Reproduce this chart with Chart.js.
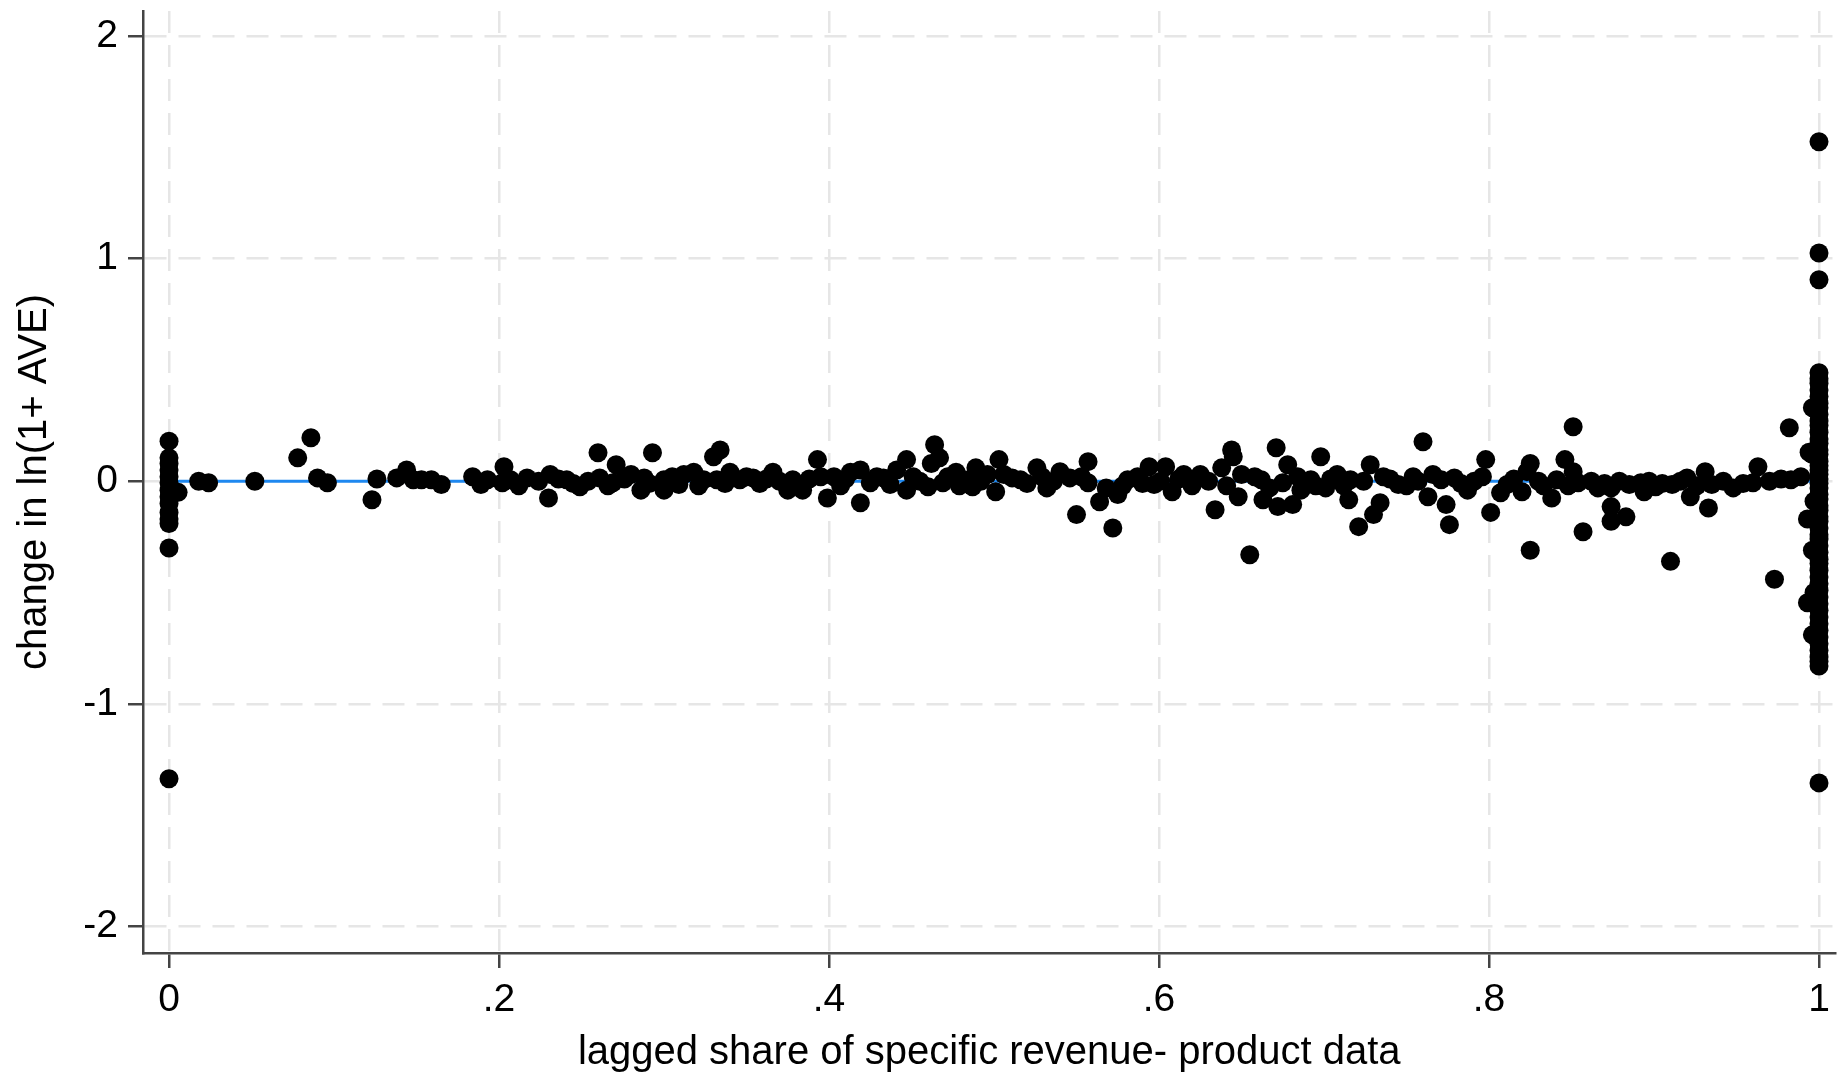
<!DOCTYPE html>
<html>
<head>
<meta charset="utf-8">
<script src="https://cdn.jsdelivr.net/npm/chart.js@4"></script>
<style>
  body { margin: 0; background: #fff; }
  #wrap { width: 1845px; height: 1081px; }
</style>
</head>
<body>
<div id="wrap"><canvas id="chartAve" width="1845" height="1081"></canvas></div>
<script>
// tick marks and labels
const xTickValues = [0, 0.2, 0.4, 0.6, 0.8, 1];
const xTickLabels = ['0', '.2', '.4', '.6', '.8', '1'];
const yTickValues = [-2, -1, 0, 1, 2];
const yTickLabels = ['-2', '-1', '0', '1', '2'];

// observations with share = 0
const zeroShareChange = [0.18, 0.105, 0.08, 0.05, 0.02, -0.007, -0.04, -0.07, -0.1, -0.14, -0.17, -0.19, -0.30, -1.336];

// observations with share = 1
const fullShareChange = [1.525, 1.025, 0.905, 0.487, 0.46, 0.44, 0.41, 0.38, 0.35, 0.33, 0.30, 0.27, 0.25, 0.22,
  0.19, 0.17, 0.14, 0.12, 0.09, 0.07, 0.05, 0.03, 0.01, -0.01, -0.03, -0.06, -0.08, -0.11, -0.13, -0.16,
  -0.18, -0.21, -0.24, -0.26, -0.29, -0.32, -0.35, -0.37, -0.40, -0.43, -0.46, -0.49, -0.52, -0.55,
  -0.58, -0.61, -0.64, -0.67, -0.70, -0.73, -0.76, -0.79, -0.81, -0.83, -1.355];

// observations in between (readable outliers)
const midShare = [0.0055, 0.018, 0.024, 0.052, 0.078, 0.086, 0.090, 0.096, 0.123, 0.126, 0.138, 0.144, 0.148, 0.153,
  0.159, 0.165, 0.184, 0.189, 0.193, 0.202, 0.203, 0.207, 0.217, 0.224, 0.230, 0.231, 0.241, 0.249, 0.260,
  0.261, 0.269, 0.271, 0.280, 0.286, 0.288, 0.293, 0.300, 0.300, 0.312, 0.318, 0.324, 0.330, 0.332, 0.334,
  0.340, 0.346, 0.354, 0.366, 0.375, 0.378, 0.384, 0.393, 0.395, 0.399, 0.403, 0.413, 0.419, 0.419, 0.425,
  0.433, 0.441, 0.447, 0.447, 0.451, 0.460, 0.462, 0.464, 0.467, 0.469, 0.477, 0.482, 0.487, 0.489, 0.496,
  0.501, 0.503, 0.511, 0.516, 0.526, 0.532, 0.540, 0.546, 0.550, 0.557, 0.557, 0.564, 0.572, 0.575, 0.581,
  0.587, 0.594, 0.597, 0.604, 0.608, 0.615, 0.625, 0.634, 0.638, 0.644, 0.645, 0.648, 0.650, 0.655, 0.662,
  0.663, 0.671, 0.672, 0.675, 0.678, 0.681, 0.686, 0.690, 0.692, 0.698, 0.701, 0.708, 0.715, 0.716, 0.721,
  0.728, 0.730, 0.734, 0.736, 0.745, 0.754, 0.760, 0.763, 0.766, 0.771, 0.774, 0.776, 0.779, 0.787, 0.796,
  0.798, 0.801, 0.807, 0.811, 0.820, 0.823, 0.825, 0.825, 0.830, 0.838, 0.841, 0.846, 0.851, 0.851, 0.854,
  0.857, 0.866, 0.874, 0.874, 0.874, 0.883, 0.885, 0.892, 0.894, 0.901, 0.910, 0.911, 0.920, 0.922, 0.931,
  0.933, 0.935, 0.948, 0.960, 0.963, 0.973, 0.982, 0.983, 0.989, 0.993, 0.993, 0.994];
const midChange = [-0.05, 0.0, -0.007, 0.0, 0.105, 0.195, 0.015, -0.007, -0.083, 0.01, 0.015, 0.05, 0.007, 0.007,
  0.007, -0.015, 0.02, -0.015, 0.007, -0.007, 0.065, 0.007, 0.015, 0.0, -0.075, 0.03, 0.007, -0.025, 0.128,
  0.015, -0.007, 0.074, 0.03, -0.04, 0.015, 0.128, -0.04, 0.007, 0.03, 0.04, 0.007, 0.11, 0.007, 0.14,
  0.04, 0.007, 0.015, 0.04, -0.04, 0.007, -0.04, 0.097, 0.02, -0.075, 0.02, 0.04, 0.05, -0.097, -0.007,
  0.015, 0.05, 0.097, -0.04, 0.02, -0.025, 0.08, 0.164, 0.105, -0.007, 0.04, 0.007, -0.025, 0.06, 0.03,
  -0.047, 0.097, 0.015, 0.007, 0.06, -0.03, 0.043, 0.015, -0.15, 0.088, -0.007, -0.092, -0.21, -0.06, 0.007,
  0.02, 0.065, -0.015, 0.065, -0.047, 0.03, 0.03, -0.128, 0.06, 0.14, 0.11, -0.07, 0.03, -0.33, 0.007,
  -0.083, 0.15, -0.114, -0.007, 0.074, -0.105, -0.04, -0.015, 0.007, 0.11, -0.03, 0.03, -0.083, 0.007, -0.204,
  0.074, -0.15, -0.097, 0.02, -0.015, 0.02, 0.177, -0.07, 0.03, 0.007, -0.105, -0.195, 0.015, -0.04, 0.02,
  0.097, -0.14, -0.052, -0.015, -0.047, 0.043, 0.08, -0.31, 0.0, -0.075, 0.007, 0.097, 0.245, 0.043, -0.007,
  -0.227, -0.03, -0.03, -0.114, -0.18, -0.16, -0.015, -0.007, -0.047, -0.025, -0.36, -0.015, 0.015, -0.07, 0.043,
  -0.12, -0.015, -0.03, -0.007, 0.065, -0.44, 0.24, 0.007, 0.02, -0.546, -0.17, 0.13];

// observations packed in the dense band around zero
const bandShare = [0.212, 0.236, 0.245, 0.254, 0.266, 0.276, 0.291, 0.305, 0.309, 0.321, 0.337, 0.350, 0.358,
  0.362, 0.370, 0.388, 0.407, 0.410, 0.429, 0.437, 0.455, 0.472, 0.479, 0.492, 0.506, 0.520, 0.529, 0.536,
  0.553, 0.568, 0.578, 0.590, 0.601, 0.612, 0.620, 0.630, 0.641, 0.658, 0.667, 0.684, 0.695, 0.704, 0.712,
  0.724, 0.740, 0.750, 0.757, 0.783, 0.791, 0.815, 0.833, 0.848, 0.862, 0.870, 0.879, 0.897, 0.905, 0.916,
  0.926, 0.942, 0.954, 0.970, 0.977, 0.996, 0.996, 0.997, 0.996, 0.997, 0.996];
const bandChange = [-0.02, 0.01, -0.01, 0.0, -0.02, 0.01, -0.01, 0.02, -0.015, -0.02, -0.01, 0.02, -0.01,
  0.01, 0.0, 0.01, -0.02, 0.01, 0.02, -0.015, 0.0, 0.02, -0.02, 0.0, 0.03, -0.01, 0.02, 0.0,
  0.02, -0.03, -0.02, -0.01, 0.0, 0.01, -0.02, 0.0, -0.02, 0.02, -0.03, 0.02, -0.02, 0.01, -0.02,
  0.0, 0.01, -0.02, 0.0, -0.01, 0.0, 0.01, -0.02, -0.02, 0.0, -0.01, 0.0, 0.0, -0.01, 0.0,
  -0.02, 0.0, -0.01, 0.0, 0.01, 0.33, 0.12, -0.09, -0.31, -0.5, -0.69];

// fitted line
const fitShare = [0, 1];
const fitChange = [0.0, 0.0];

let scatterPoints = [];
zeroShareChange.forEach(v => scatterPoints.push({x: 0, y: v}));
midShare.forEach((s, i) => scatterPoints.push({x: s, y: midChange[i]}));
bandShare.forEach((s, i) => scatterPoints.push({x: s, y: bandChange[i]}));
fullShareChange.forEach(v => scatterPoints.push({x: 1, y: v}));

let fitPoints = fitShare.map((s, i) => ({x: s, y: fitChange[i]}));

let fontFamily = '"Liberation Sans", Arial, sans-serif';
let gridColor = '#e6e6e6';
let axisColor = '#444444';

let contextAve = document.querySelector('#chartAve').getContext('2d');

let config = {
    type: 'scatter',
    data: {
        datasets: [{
            label: 'change',
            data: scatterPoints,
            backgroundColor: '#000000',
            borderWidth: 0,
            pointRadius: 9.5,
            pointHoverRadius: 9.5
        }, {
            type: 'line',
            label: 'fit',
            data: fitPoints,
            borderColor: '#1e88f0',
            borderWidth: 3,
            pointRadius: 0,
            fill: false
        }]
    },
    options: {
        responsive: false,
        animation: false,
        layout: {
            padding: { top: 11, right: 0, left: 0, bottom: 0 }
        },
        plugins: {
            legend: { display: false },
            tooltip: { enabled: false }
        },
        scales: {
            x: {
                type: 'linear',
                // chart area ends where the last label needs room, so the range is set to put 0 and 1 where the original has them
                min: -0.01577,
                max: 1.0100,
                afterBuildTicks: scale => { scale.ticks = xTickValues.map(v => ({value: v})); },
                afterFit: scale => {
                    scale.height = 128;
                    scale.paddingLeft = 0;
                    scale.paddingRight = 0;
                },
                ticks: {
                    autoSkip: false,
                    maxRotation: 0,
                    padding: 9,
                    color: '#000000',
                    font: { family: fontFamily, size: 39 },
                    callback: (v, i) => xTickLabels[i]
                },
                grid: {
                    color: gridColor,
                    lineWidth: 2.5,
                    tickColor: axisColor,
                    tickWidth: 2.5,
                    tickLength: 15,
                    tickBorderDash: []
                },
                border: { color: axisColor, width: 2.5, dash: [22, 12] },
                title: {
                    display: true,
                    text: 'lagged share of specific revenue- product data',
                    color: '#000000',
                    font: { family: fontFamily, size: 40 },
                    padding: { top: 0, bottom: 4 }
                }
            },
            y: {
                type: 'linear',
                min: -2.119,
                max: 2.112,
                afterBuildTicks: scale => { scale.ticks = yTickValues.map(v => ({value: v})); },
                afterFit: scale => {
                    scale.width = 143;
                    scale.paddingTop = 0;
                    scale.paddingBottom = 0;
                },
                ticks: {
                    autoSkip: false,
                    padding: 10,
                    color: '#000000',
                    font: { family: fontFamily, size: 39 },
                    callback: (v, i) => yTickLabels[i]
                },
                grid: {
                    color: gridColor,
                    lineWidth: 2.5,
                    tickColor: axisColor,
                    tickWidth: 2.5,
                    tickLength: 15,
                    tickBorderDash: []
                },
                border: { color: axisColor, width: 2.5, dash: [22, 12] },
                title: {
                    display: true,
                    text: 'change in ln(1+ AVE)',
                    color: '#000000',
                    font: { family: fontFamily, size: 40 },
                    padding: { top: 11, bottom: 0 }
                }
            }
        }
    }
};

let chartAve = new Chart(contextAve, config);
</script>
</body>
</html>
